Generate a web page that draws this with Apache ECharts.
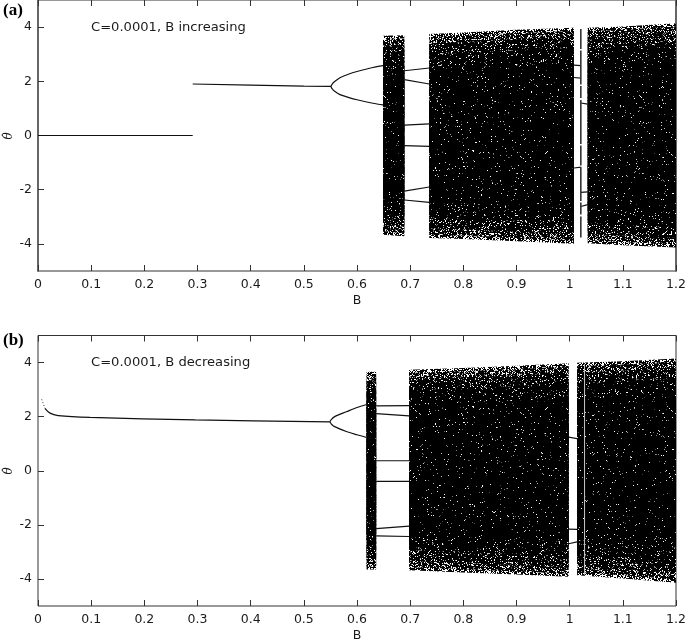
<!DOCTYPE html>
<html>
<head>
<meta charset="utf-8">
<style>
  html, body { margin: 0; padding: 0; background: #fff; }
  #main { width: 685px; height: 640px; }
</style>
<script src="https://cdn.jsdelivr.net/npm/echarts@6/dist/echarts.min.js"></script>
</head>
<body>
<div id="main"></div>
<script>
const xTicks = [0, 0.1, 0.2, 0.3, 0.4, 0.5, 0.6, 0.7, 0.8, 0.9, 1, 1.1, 1.2]
const yTicks = [-4, -2, 0, 2, 4]

// panel (a): branches, [B, thetaDot]
const aBranches = [
  [[0, 0], [0.291, 0]],
  [[0.291, 1.9], [0.4, 1.86], [0.5, 1.82], [0.551, 1.81]],
  [[0.689, 2.39], [0.736, 2.49]],
  [[0.689, 2.06], [0.736, 1.9]],
  [[0.689, 0.38], [0.736, 0.43]],
  [[0.689, -0.37], [0.736, -0.4]],
  [[0.689, -2.05], [0.736, -1.9]],
  [[0.689, -2.38], [0.736, -2.47]],
  [[1.008, 2.6], [1.021, 2.58]],
  [[1.008, 2.14], [1.021, 2.12]],
  [[1.008, -1.2], [1.021, -1.17]],
  [[1.021, 1.2], [1.034, 1.16]],
  [[1.021, -2.1], [1.034, -2.08]],
  [[1.021, -2.62], [1.034, -2.55]]
]
const aForks = [
  [[0.551, 1.81], [0.553, 1.89], [0.558, 1.99], [0.568, 2.13], [0.585, 2.27], [0.6, 2.36], [0.63, 2.51], [0.649, 2.58]],
  [[0.551, 1.81], [0.553, 1.73], [0.558, 1.63], [0.568, 1.51], [0.585, 1.4], [0.6, 1.32], [0.63, 1.19], [0.649, 1.13]]
]
const aWindow = [[1.021, 3.93], [1.021, -3.76]]

// outline of the chaotic bands, [B, top, bottom]
const aBands = [
  [[0.649, 3.68, -3.66], [0.689, 3.7, -3.72]],
  [[0.736, 3.75, -3.78], [0.8, 3.8, -3.82], [0.9, 3.9, -3.9], [1.008, 3.98, -3.99]],
  [[1.034, 3.98, -3.98], [1.1, 4.02, -4.05], [1.2, 4.14, -4.13]]
]

// panel (b)
const bBranches = [
  [[0.636, 2.4], [0.698, 2.41]],
  [[0.636, 2.11], [0.698, 2.03]],
  [[0.636, 0.37], [0.698, 0.37]],
  [[0.636, -0.39], [0.698, -0.39]],
  [[0.636, -2.14], [0.698, -2.05]],
  [[0.636, -2.41], [0.698, -2.43]],
  [[0.998, 1.24], [1.014, 1.19]],
  [[0.998, -2.16], [1.014, -2.17]],
  [[0.998, -2.7], [1.014, -2.63]]
]
const bForks = [
  [[0.013, 2.31], [0.0226, 2.13], [0.038, 2.04], [0.098, 1.97], [0.296, 1.88], [0.549, 1.81]],
  [[0.549, 1.81], [0.552, 1.9], [0.558, 2.0], [0.58, 2.18], [0.6, 2.34], [0.618, 2.45]],
  [[0.549, 1.81], [0.552, 1.72], [0.558, 1.63], [0.58, 1.45], [0.6, 1.33], [0.618, 1.23]]
]
const bStart = [[0.007, 2.64], [0.013, 2.31]]
const bStripe = [[1.028, 3.95], [1.028, -3.85]]
const bBands = [
  [[0.618, 3.66, -3.65], [0.636, 3.66, -3.65]],
  [[0.698, 3.73, -3.68], [0.8, 3.8, -3.76], [0.9, 3.88, -3.84], [0.998, 3.97, -3.92]],
  [[1.014, 3.99, -3.86], [1.1, 4.05, -3.98], [1.2, 4.15, -4.14]]
]

// speckle used as a fill for the chaotic bands, it is only a texture.
// fixed congruential sequence so every render looks the same
function speckle(dark, light, seed) {
  const size = 256
  const cv = document.createElement('canvas')
  cv.width = cv.height = size
  const ctx = cv.getContext('2d')
  const img = ctx.createImageData(size, size)
  let s = seed
  const next = () => {
    s = (s * 1664525 + 1013904223) >>> 0
    return (s >>> 8) / 16777216
  }
  for (let i = 0; i < size * size; i++) {
    const k = i * 4
    const on = next() < dark
    img.data[k] = img.data[k + 1] = img.data[k + 2] = 0
    img.data[k + 3] = on ? 255 : 0
    if (light !== null && !on) {
      const v = 60 + next() * 195
      img.data[k] = img.data[k + 1] = img.data[k + 2] = next() < light ? v : 255
      img.data[k + 3] = 255
    }
  }
  ctx.putImageData(img, 0, 0)
  return { image: cv, repeat: 'repeat' }
}

// outer layers are sparse, the core almost solid
const layers = [
  { inset: 0, fill: speckle(0.6, null, 7) },
  { inset: 0.12, fill: speckle(0.72, 0.5, 11) },
  { inset: 0.35, fill: speckle(0.84, 0.6, 23) },
  { inset: 0.75, fill: speckle(0.93, 0.7, 31) },
  { inset: 1.3, fill: speckle(0.97, 0.8, 47) }
]

function bandSeries(rows, panel) {
  return {
    type: 'custom',
    xAxisIndex: panel * 2,
    yAxisIndex: panel,
    data: rows,
    encode: { x: 0, y: [1, 2] },
    silent: true,
    z: 2,
    clip: true,
    renderItem(params, api) {
      if (params.dataIndex !== 0) return null
      const children = layers.map(l => {
        const top = rows.map(r => api.coord([r[0], r[1] - l.inset]))
        const bottom = rows.map(r => api.coord([r[0], r[2] + l.inset])).reverse()
        return {
          type: 'polygon',
          shape: { points: top.concat(bottom) },
          style: { fill: l.fill }
        }
      })
      return { type: 'group', children }
    }
  }
}

function lineSeries(points, panel, extra) {
  return Object.assign({
    type: 'line',
    xAxisIndex: panel * 2,
    yAxisIndex: panel,
    data: points,
    showSymbol: false,
    silent: true,
    z: 3,
    lineStyle: { color: '#111', width: 1.2 }
  }, extra)
}

const axisColor = '#333'
const labelStyle = { color: '#1a1a1a', fontSize: 12.5, fontFamily: 'DejaVu Sans' }

function xAxes(grid) {
  const common = { type: 'value', gridIndex: grid, min: 0, max: 1.2, splitLine: { show: false } }
  const ticks = { show: true, inside: true, length: 6, customValues: xTicks, lineStyle: { color: axisColor } }
  return [
    Object.assign({}, common, {
      position: 'bottom',
      name: 'B',
      nameLocation: 'middle',
      nameGap: 23,
      nameTextStyle: labelStyle,
      axisLine: { onZero: false, show: false },
      axisTick: ticks,
      axisLabel: Object.assign({ customValues: xTicks, margin: 7, hideOverlap: false }, labelStyle)
    }),
    Object.assign({}, common, {
      position: 'top',
      axisLine: { onZero: false, show: false },
      axisTick: ticks,
      axisLabel: { show: false }
    })
  ]
}

function yAxis(grid, heavy) {
  return {
    type: 'value',
    gridIndex: grid,
    min: -5,
    max: 5,
    position: 'left',
    splitLine: { show: false },
    axisLine: { onZero: false, show: heavy, lineStyle: { color: '#666', width: 2 } },
    axisTick: { show: true, inside: true, length: 6, customValues: yTicks, lineStyle: { color: axisColor } },
    axisLabel: Object.assign({ customValues: yTicks, margin: 6 }, labelStyle)
  }
}

// right edge of panel (a) is drawn heavier too
const aRightEdge = {
  type: 'value',
  gridIndex: 0,
  min: -5,
  max: 5,
  position: 'right',
  splitLine: { show: false },
  axisLine: { onZero: false, show: true, lineStyle: { color: '#666', width: 2 } },
  axisTick: { show: false },
  axisLabel: { show: false }
}

function note(text, x, y) {
  return { type: 'text', x, y, silent: true, style: { text, fill: '#1a1a1a', font: '13.1px "DejaVu Sans"', textVerticalAlign: 'middle' } }
}
function tag(text, x, y) {
  return { type: 'text', x, y, silent: true, style: { text, fill: '#000', font: 'bold 17px "Liberation Serif"', textVerticalAlign: 'middle' } }
}
function yName(x, y) {
  return {
    type: 'text', x, y, rotation: Math.PI / 2, silent: true,
    style: { text: '\u03B8\u0307', fill: '#1a1a1a', font: 'italic 12px "DejaVu Serif"', textAlign: 'center', textVerticalAlign: 'middle' }
  }
}

const series = []
aBands.forEach(b => series.push(bandSeries(b, 0)))
aBranches.forEach(p => series.push(lineSeries(p, 0)))
aForks.forEach(p => series.push(lineSeries(p, 0, { smooth: 0.3 })))
series.push(lineSeries(aWindow, 0, { lineStyle: { color: '#333', width: 1.6, type: [20, 1.5, 34, 1.5, 12, 2, 44, 1.5] } }))
bBands.forEach(b => series.push(bandSeries(b, 1)))
bBranches.forEach(p => series.push(lineSeries(p, 1)))
bForks.forEach(p => series.push(lineSeries(p, 1, { smooth: 0.3 })))
series.push(lineSeries(bStart, 1, { lineStyle: { color: '#333', width: 1, type: [1, 2] } }))
series.push(lineSeries(bStripe, 1, { z: 4, lineStyle: { color: '#c8c8c8', width: 1 } }))

const gridCommon = { show: true, borderColor: axisColor, borderWidth: 1, outerBoundsMode: 'none', containLabel: false }
const chart = echarts.init(document.getElementById('main'), null, { renderer: 'canvas' })
chart.setOption({
  animation: false,
  backgroundColor: '#fff',
  grid: [
    Object.assign({ left: 38, top: 0, width: 638, height: 271 }, gridCommon),
    Object.assign({ left: 38, top: 335.5, width: 638, height: 270.5 }, gridCommon)
  ],
  xAxis: xAxes(0).concat(xAxes(1)),
  yAxis: [yAxis(0, true), yAxis(1, false), aRightEdge],
  series,
  graphic: [
    tag('(a)', 3, 11),
    tag('(b)', 3, 341),
    note('C=0.0001, B increasing', 91, 28),
    note('C=0.0001, B decreasing', 91, 363),
    yName(9, 136),
    yName(9, 471)
  ]
})
</script>
</body>
</html>
